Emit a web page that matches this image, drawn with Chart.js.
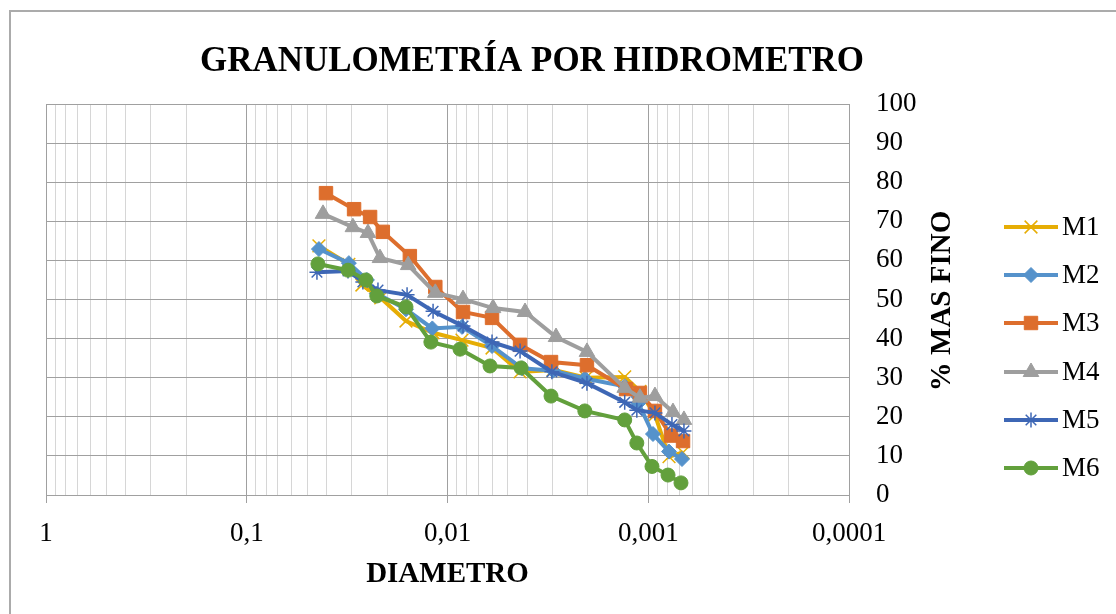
<!DOCTYPE html>
<html>
<head>
<meta charset="utf-8">
<script src="https://cdn.jsdelivr.net/npm/chart.js@4.4.0/dist/chart.umd.min.js"></script>
<style>
  body { margin: 0; background: #fff; }
  #wrap { position: relative; width: 1116px; height: 614px; }
</style>
</head>
<body>
<div id="wrap"><canvas id="granChart" width="1116" height="614"></canvas></div>
<script>
const serif = "'Liberation Serif', 'Times New Roman', serif";

const seriesNames = ["M1", "M2", "M3", "M4", "M5", "M6"];
const seriesColors = ["#E6AD05", "#5592CB", "#DD6E2D", "#9E9E9E", "#3E67B5", "#62A03C"];

const diamM1 = [0.0437, 0.0310, 0.0267, 0.0215, 0.0161, 0.0118, 0.00847, 0.00600, 0.00435, 0.00298, 0.00204, 0.00131, 0.00110, 0.000926, 0.000788, 0.000671];
const pctM1 = [63.7, 59.0, 53.7, 50.4, 44.5, 41.5, 39.6, 37.6, 31.5, 32.0, 30.0, 30.2, 26.5, 20.5, 9.8, 10.9];

const diamM2 = [0.0437, 0.0310, 0.0252, 0.0225, 0.0161, 0.0119, 0.00847, 0.00600, 0.00425, 0.00298, 0.00207, 0.00131, 0.00112, 0.000947, 0.000788, 0.000679];
const pctM2 = [62.9, 59.3, 55.0, 51.5, 47.5, 42.6, 43.0, 38.1, 32.4, 31.8, 29.8, 27.8, 23.5, 15.6, 11.1, 9.2];

const diamM3 = [0.0403, 0.0292, 0.0243, 0.0210, 0.0154, 0.0115, 0.00837, 0.00600, 0.00435, 0.00305, 0.00202, 0.00129, 0.00110, 0.000926, 0.000770, 0.000671];
const pctM3 = [77.2, 73.1, 71.1, 67.3, 61.1, 53.2, 46.8, 45.3, 38.4, 34.0, 33.2, 27.1, 26.1, 21.5, 15.2, 13.8];

const diamM4 = [0.0417, 0.0296, 0.0249, 0.0217, 0.0157, 0.0115, 0.00837, 0.00593, 0.00411, 0.00288, 0.00202, 0.00131, 0.00110, 0.000926, 0.000753, 0.000664];
const pctM4 = [71.9, 68.5, 67.0, 60.6, 58.8, 51.7, 50.1, 47.8, 46.8, 40.4, 36.6, 27.4, 24.9, 25.3, 21.2, 19.2];

const diamM5 = [0.0447, 0.0313, 0.0264, 0.0222, 0.0159, 0.0118, 0.00837, 0.00600, 0.00435, 0.00302, 0.00202, 0.00131, 0.00114, 0.000926, 0.000762, 0.000664];
const pctM5 = [57.0, 57.3, 54.5, 52.4, 51.2, 47.0, 43.2, 39.1, 36.8, 31.5, 28.6, 23.7, 21.7, 21.0, 18.0, 16.4];

const diamM6 = [0.0442, 0.0313, 0.0255, 0.0225, 0.0161, 0.0121, 0.00866, 0.00614, 0.00430, 0.00305, 0.00207, 0.00131, 0.00114, 0.000958, 0.000797, 0.000687];
const pctM6 = [59.1, 57.5, 55.0, 50.9, 48.1, 39.1, 37.3, 33.0, 32.5, 25.3, 21.5, 19.2, 13.3, 7.3, 5.1, 3.1];

const xTickValues = [1, 0.1, 0.01, 0.001, 0.0001];
const xTickLabels = ["1", "0,1", "0,01", "0,001", "0,0001"];

const diams = [diamM1, diamM2, diamM3, diamM4, diamM5, diamM6];
const pcts = [pctM1, pctM2, pctM3, pctM4, pctM5, pctM6];
const markers = [
  { style: "crossRot", radius: 9, bw: 1.5 },
  { style: "rectRot", radius: 7.5, bw: 1 },
  { style: "rect", radius: 9.5, bw: 1 },
  { style: "triangle", radius: 9, bw: 1 },
  { style: "star", radius: 7.5, bw: 1.5 },
  { style: "circle", radius: 7, bw: 1 },
];

// grid lines: every 1..9 x 10^n between 0.0001 and 1
const xGrid = [];
xTickValues.forEach((p, i) => {
  if (i === xTickValues.length - 1) return;
  for (let k = 1; k <= 9; k++) xGrid.push(+(p / 10 * k).toPrecision(3));
});
xGrid.push(1);

const isMajor = (v) => xTickValues.some((p) => Math.abs(p - v) / p < 1e-6);
const majorColor = "#A0A0A0";
const minorColor = "#D6D6D6";

const datasets = seriesNames.map((name, i) => ({
  label: name,
  data: diams[i].map((d, j) => ({ x: d, y: pcts[i][j] })),
  showLine: true,
  borderColor: seriesColors[i],
  backgroundColor: seriesColors[i],
  borderWidth: 4,
  tension: 0,
  pointStyle: markers[i].style,
  pointRadius: markers[i].radius,
  pointBorderWidth: markers[i].bw,
  pointBackgroundColor: seriesColors[i],
  pointBorderColor: seriesColors[i],
  order: seriesNames.length - i,
}));

const textPlugin = {
  id: "textPlugin",
  beforeDraw(chart) {
    const ctx = chart.ctx;
    ctx.save();
    ctx.fillStyle = "#fff";
    ctx.fillRect(0, 0, chart.width, chart.height);
    ctx.strokeStyle = "#ABABAB";
    ctx.lineWidth = 2;
    ctx.beginPath();
    ctx.moveTo(10, chart.height);
    ctx.lineTo(10, 11);
    ctx.lineTo(chart.width, 11);
    ctx.stroke();
    ctx.restore();
  },
  afterDraw(chart) {
    const ctx = chart.ctx;
    ctx.save();
    ctx.fillStyle = "#000";
    ctx.textAlign = "center";
    ctx.textBaseline = "middle";
    ctx.font = "bold 36px " + serif;
    ctx.fillText("GRANULOMETRÍA POR HIDROMETRO", 532, 62, 664);

    ctx.save();
    ctx.translate(943, 301);
    ctx.rotate(-Math.PI / 2);
    ctx.font = "bold 29px " + serif;
    ctx.fillText("% MAS FINO", 0, 0);
    ctx.restore();

    // legend
    const rowY = [227, 275, 323, 372, 420, 468];
    seriesNames.forEach((name, i) => {
      const y = rowY[i];
      ctx.strokeStyle = seriesColors[i];
      ctx.fillStyle = seriesColors[i];
      ctx.lineWidth = 4;
      ctx.beginPath();
      ctx.moveTo(1004, y);
      ctx.lineTo(1058, y);
      ctx.stroke();
      ctx.lineWidth = markers[i].bw;
      Chart.helpers.drawPoint(ctx, {
        pointStyle: markers[i].style,
        radius: markers[i].radius,
        rotation: 0,
        borderWidth: markers[i].bw,
      }, 1031, y);
      ctx.fillStyle = "#000";
      ctx.textAlign = "left";
      ctx.font = "27px " + serif;
      ctx.fillText(name, 1062, y + 1);
    });
    ctx.restore();
  },
};

const ctx = document.getElementById("granChart").getContext("2d");
const granChart = new Chart(ctx, {
  type: "scatter",
  data: { datasets },
  plugins: [textPlugin],
  options: {
    responsive: false,
    devicePixelRatio: 1,
    animation: false,
    layout: { padding: { left: 46, top: 104, right: 0, bottom: 0 } },
    plugins: { legend: { display: false }, tooltip: { enabled: false } },
    scales: {
      x: {
        type: "logarithmic",
        position: "bottom",
        reverse: true,
        min: 0.0001,
        max: 1,
        afterBuildTicks: (scale) => {
          scale.ticks = xGrid.map((v) => ({ value: v, major: isMajor(v) }));
        },
        afterFit: (scale) => {
          scale.height = 119;
        },
        ticks: {
          autoSkip: false,
          maxRotation: 0,
          padding: 15,
          color: "#000",
          font: { family: serif, size: 27 },
          callback: (v) => {
            const k = xTickValues.findIndex((p) => Math.abs(p - v) / p < 1e-6);
            return k >= 0 ? xTickLabels[k] : "";
          },
        },
        grid: {
          color: (c) => (c.tick && isMajor(c.tick.value) ? majorColor : minorColor),
          tickColor: (c) => (c.tick && isMajor(c.tick.value) ? majorColor : "rgba(0,0,0,0)"),
          tickLength: 8,
          lineWidth: 1,
        },
        border: { color: majorColor, width: 1 },
        title: {
          display: true,
          text: "DIAMETRO",
          color: "#000",
          font: { family: serif, size: 29, weight: "bold" },
          padding: { top: 0, bottom: 22 },
        },
      },
      y: {
        position: "right",
        min: 0,
        max: 100,
        afterFit: (scale) => {
          scale.width = 267;
        },
        ticks: {
          stepSize: 10,
          padding: 27,
          color: "#000",
          font: { family: serif, size: 27 },
        },
        grid: { color: majorColor, drawTicks: false, lineWidth: 1 },
        border: { display: false },
      },
    },
  },
});
</script>
</body>
</html>
